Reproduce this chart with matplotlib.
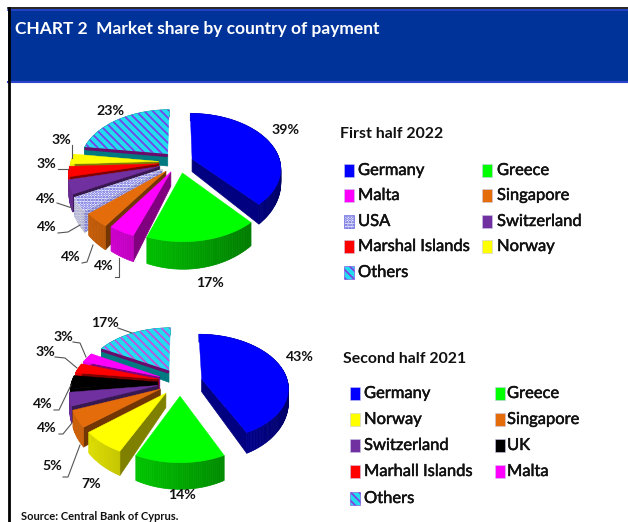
import numpy as np
import matplotlib
matplotlib.use("Agg")
import matplotlib.pyplot as plt
import matplotlib.patheffects as pe
from matplotlib.patches import Rectangle, Polygon

# ---- data ----
countries_h1 = ["Germany", "Greece", "Malta", "Singapore", "USA", "Switzerland",
                "Marshal Islands", "Norway", "Others"]
shares_h1 = [39, 17, 4, 4, 4, 4, 3, 3, 23]
countries_h2 = ["Germany", "Greece", "Norway", "Singapore", "Switzerland", "UK",
                "Marhall Islands", "Malta", "Others"]
shares_h2 = [43, 14, 7, 5, 4, 4, 3, 3, 17]
title = "CHART 2  Market share by country of payment"
period_h1 = "First half 2022"
period_h2 = "Second half 2021"
source = "Source: Central Bank of Cyprus."

# ---- style ----
plt.rcParams["font.family"] = ["Lato", "DejaVu Sans"]
plt.rcParams["hatch.linewidth"] = 1.3
COL = {"Germany": "#0000ff", "Greece": "#00ff00", "Malta": "#ff00ff", "Singapore": "#e46c0a",
       "USA": "#ffffff", "Switzerland": "#7030a0", "Marshal Islands": "#ff0000",
       "Marhall Islands": "#ff0000", "Norway": "#ffff00", "UK": "#000000", "Others": "#22ddee"}
HATCH = {"USA": ("#4a4ad8", "......"), "Others": (None, "\\\\\\\\")}
LABEL_FS = 10.2
LEG_FS = 11.9
HEAD_FS = 11.4
INK = "#111111"
HEAVY = [pe.withStroke(linewidth=0.35, foreground=INK)]


def rgb(c, f):
    return tuple(x * f for x in matplotlib.colors.to_rgb(c))


def draw_pie(ax, names, vals, cx, cy, rx, ry, k, d0, explode, stripe):
    v = np.array(vals, float)
    edges = np.concatenate([[0], np.cumsum(v) / v.sum()]) * 2 * np.pi

    def proj(u, w):
        s = 1 / (1 + k * w)
        return np.array([cx + rx * u * s, cy - ry * w * s]), d0 * s ** 3.5

    order = [0] + list(range(len(v) - 1, 0, -1))
    for i in order:
        name = names[i]
        t0, t1 = edges[i], edges[i + 1]
        mid = (t0 + t1) / 2
        ou, ow = explode[i] * np.sin(mid), explode[i] * np.cos(mid)
        ts = np.linspace(t0, t1, max(4, int((t1 - t0) / 0.02)))
        arc = [proj(ou + np.sin(t), ow + np.cos(t)) for t in ts]
        ap, ad = proj(ou, ow)
        base = COL[name]
        hcol, hatch = HATCH.get(name, (None, None))
        if name == "Others":
            hcol = stripe
        side_base = "#007a80" if name == "Others" else base

        def face(pts, f):
            col = rgb(side_base, f)
            ax.add_patch(Polygon(pts, closed=True, fc=col, ec=col, lw=0.5, snap=False))
            if name == "USA":
                ax.add_patch(Polygon(pts, closed=True, fc=rgb("#ffffff", .85), ec=hcol,
                                     hatch=hatch, lw=0, snap=False))

        # radial walls that face the viewer
        fr = 1.0 if name == "Others" else 0.5
        if np.sin(t0) < 0:
            p, d = arc[0]
            face([ap, p, p + [0, d], ap + [0, ad]], fr)
        if np.sin(t1) > 0:
            p, d = arc[-1]
            face([ap, p, p + [0, d], ap + [0, ad]], fr)
        # outer wall, shaded across its width
        for j in range(len(arc) - 1):
            (p, d), (q, e) = arc[j], arc[j + 1]
            u = np.sin((ts[j] + ts[j + 1]) / 2)
            f = 1.0 if name == "Others" else float(np.clip(0.66 - 0.27 * u, 0.38, 0.9))
            face([p, q, q + [0, e], p + [0, d]], f)
        top = [ap] + [a[0] for a in arc]
        ax.add_patch(Polygon(top, closed=True, fc=base, ec=base, lw=0.3, snap=False))
        if hatch:
            ax.add_patch(Polygon(top, closed=True, fc="none", ec=hcol, hatch=hatch, lw=0, snap=False))
        if name == "Others":
            ax.plot([ap[0], arc[0][0][0]], [ap[1] + 1.5, arc[0][0][1] + 1.5],
                    color="#6a0a6a", lw=2.2, solid_capstyle="butt")


def draw_labels(ax, vals, pos, leaders):
    for val, (x, y) in zip(vals, pos):
        ax.text(x, y, f"{val}%", ha="center", va="center", fontsize=LABEL_FS,
                color=INK, weight="bold")
    for xs, ys in leaders:
        ax.plot(xs, ys, color="#555555", lw=0.8)


def draw_legend(ax, names, head, head_xy, sw_x, tx_x, rows):
    ax.text(*head_xy, head, fontsize=HEAD_FS, weight="bold", va="center", color=INK)
    for i, name in enumerate(names):
        col = i % 2
        y = rows[i // 2]
        hcol, hatch = HATCH.get(name, (None, None))
        if name == "Others":
            hcol = "#8040e0"
        ax.add_patch(Rectangle((sw_x[col], y - 6.5), 10, 13, fc=COL[name],
                               ec=hcol if hatch else "#c8c8e8", hatch=hatch, lw=0.4))
        ax.text(tx_x[col], y, name, fontsize=LEG_FS, va="center", color=INK, path_effects=HEAVY)


fig = plt.figure(figsize=(6.28, 5.22), dpi=100)
ax = fig.add_axes([0, 0, 1, 1])
ax.set_xlim(0, 628)
ax.set_ylim(522, 0)
ax.axis("off")

# header band and frame
ax.add_patch(Rectangle((8, 8.5), 620, 74, fc="#003399", ec="none"))
ax.plot([8, 628], [8.3, 8.3], color="black", lw=1.2)
ax.plot([8, 628], [9.8, 9.8], color="#2a44cc", lw=1.2)
ax.plot([8, 628], [81.5, 81.5], color="#2a44cc", lw=1.5)
ax.plot([9, 9], [8, 522], color="black", lw=2)
ax.text(15, 29, title, color="white", fontsize=12.5, weight="bold", va="center")

explode_h1 = [0.16, 0.2, 0.2, 0.22, 0.23, 0.23, 0.23, 0.23, 0.2]
explode_h2 = [0.26, 0.26, 0.26, 0.26, 0.26, 0.26, 0.26, 0.26, 0.26]
draw_pie(ax, countries_h1, shares_h1, 179, 162, 88, 53.8, 0.161, 13, explode_h1, "#7a40e8")
draw_pie(ax, countries_h2, shares_h2, 180, 382, 86, 52.2, 0.147, 13, explode_h2, "#c050e0")

pos_h1 = [(286, 130), (210, 283), (104, 266), (71, 257), (47, 227), (46, 199),
          (46, 164), (61, 140), (110, 111)]
lead_h1 = [([72, 72], [145, 158]), ([58, 68], [169, 169]), ([57, 63, 72], [203, 205, 208]),
           ([58, 68, 80], [233, 232, 225]), ([82, 87, 93], [263, 262, 245]),
           ([115, 119, 119], [277, 277, 258])]
draw_labels(ax, shares_h1, pos_h1, lead_h1)

pos_h2 = [(300, 357), (182, 495), (91, 484), (52, 466), (47, 428), (43, 404),
          (45, 352), (63, 337), (105, 323)]
lead_h2 = [([118, 132], [328, 333]), ([73, 80, 86], [342, 343, 357]),
           ([55, 65, 77], [357, 358, 368]), ([54, 59, 71], [410, 410, 385]),
           ([59, 63, 72], [434, 434, 423]), ([63, 68, 80], [477, 477, 445])]
draw_labels(ax, shares_h2, pos_h2, lead_h2)

draw_legend(ax, countries_h1, period_h1, (340, 134), (344, 482), (358, 497), (170, 195, 221, 246, 272))
draw_legend(ax, countries_h2, period_h2, (343, 359), (350, 495), (364, 507), (393, 419, 445, 471, 498))

ax.text(21, 516, source, fontsize=8, weight="bold", va="center", color=INK)

fig.savefig("out.png", dpi=100)
